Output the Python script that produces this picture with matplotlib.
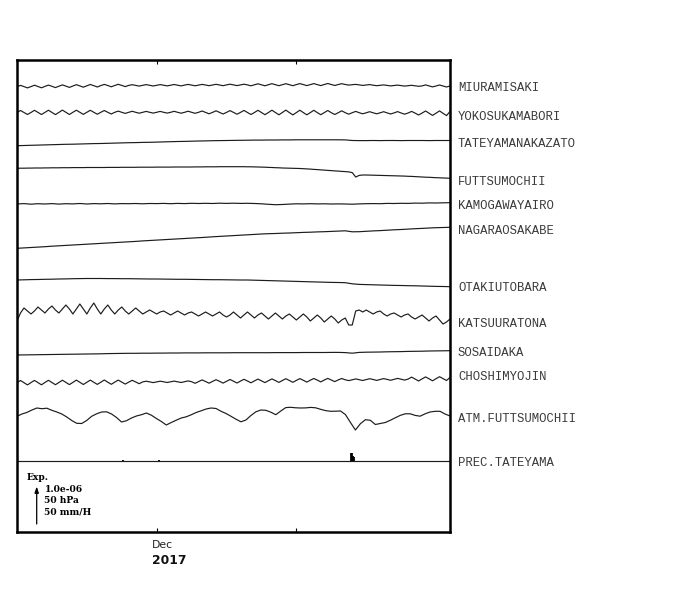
import numpy as np
import matplotlib
matplotlib.use("Agg")
import matplotlib.pyplot as plt
from matplotlib.transforms import blended_transform_factory

# ---------------- data ----------------
# time axis in days relative to 2017-12-01
T_START, T_END = -31.2, 65.3
TICK_DAYS = [0, 31]
TICK_MONTH = "Dec"
TICK_YEAR = "2017"

# scale bar: 1.0e-06 strain / 50 hPa / 50 mm/H  == SCALE_UNITS plot units
SCALE_UNITS = 37.5
SCALE_TEXT = ["1.0e-06", "50 hPa", "50 mm/H"]

miuramisaki = [
    -0.7, 0.6, -0.6, -1.9, -0.6, 0.8, -0.5, -1.8, -0.4, 0.9, -0.3, -1.6, -0.2, 1.1, -0.1, -1.4,
    0.0, 1.3, 0.1, -1.2, 0.2, 1.5, 0.3, -1.0, 0.4, 1.6, 0.5, -0.8, 0.5, 1.7, 0.6, -0.6,
    0.6, 1.3, 0.6, -0.1, 0.7, 1.4, 0.7, 0.0, 0.7, 1.4, 0.8, 0.1, 0.8, 1.5, 0.8, 0.1,
    0.9, 1.6, 0.9, 0.2, 0.9, 1.6, 1.0, 0.3, 1.0, 1.7, 1.0, 0.3, 1.1, 1.8, 1.1, 0.4, 1.1, 1.8, 1.1,
    0.2, 1.2, 2.2, 1.2, 0.2, 1.3, 2.3, 1.3, 0.3, 1.3, 2.3, 1.3, 0.3, 1.4, 2.4, 1.4, 0.4, 1.4, 2.4,
    1.4, 0.4, 1.5, 2.5, 1.5, 0.5, 1.5, 2.3, 1.5,
    0.9, 1.3, 1.6, 1.1, 0.6, 1.0, 1.4, 0.8, 0.3, 0.7, 1.1, 0.6, 0.1, 0.5, 0.9, 0.4, -0.1, 0.3, 0.7, 0.2, -0.3,
    0.1, 1.1, 0.1, -0.9, 0.0, 1.0, 0.0, -1.0, 0.0,
]

yokosukamabori = [
    -0.5, 1.5, -0.5, -2.5, -0.5, 1.7, -0.4, -2.5, -0.4, 1.8, -0.4, -2.6, -0.4, 1.9, -0.3, -2.5,
    -0.3, 1.8, -0.3, -2.4, -0.3, 1.7, -0.3, -2.2, -0.3, 1.5, -0.3, -2.0,
    -0.3, 0.9, -0.3, -1.4, -0.3, 0.7, -0.3, -1.2, -0.3, 0.6, -0.3, -1.1, -0.3, 0.6, -0.3, -1.1,
    -0.3, 0.7, -0.3, -1.2, -0.3, 0.8, -0.3, -1.3, -0.3, 1.0,
    -0.4, -1.8, -0.4, 1.2, -0.4, -2.0, -0.4, 1.4, -0.4, -2.2, -0.4, 1.6, -0.5, -2.5, -0.5, 1.7,
    -0.5, -2.7, -0.5, 1.8, -0.5, -2.8, -0.5, 1.9, -0.6, -2.9, -0.6, 1.8, -0.6, -2.8, -0.6, 1.7,
    -0.6, -2.7, -0.6, 1.5, -0.7, -2.5, -0.7, 1.2, -0.7, -2.2,
    -0.7, 0.6, -0.7, -1.8, -0.8, 0.3, -0.8, -1.8, -0.8, 0.3, -0.9, -2.0, -0.9, 0.4, -1.0, -2.2,
    -1.0, 0.6, -1.1,
    -3.0, -1.1, 1.0, -1.2, -3.4, -1.2, 1.1, -1.3, -3.6, 0.5,
]

tateyamanakazato = [
    -2.7, -2.5, -2.3, -2.1, -1.9, -1.7, -1.5, -1.3, -1.2, -1.0, -0.8, -0.6, -0.5, -0.3, -0.1, 0.1,
    0.3, 0.4, 0.6, 0.7, 0.9, 1.1, 1.3, 1.5, 1.6, 1.8, 2.0, 2.1, 2.3, 2.4, 2.5, 2.6,
    2.7, 2.8, 2.9, 2.9, 3.0, 3.0, 3.1, 3.1, 3.2, 3.2, 3.2, 3.2, 3.2, 3.2, 3.2, 3.1,
    2.5, 2.4, 2.4, 2.5, 2.4, 2.5, 2.5, 2.4, 2.5, 2.5, 2.5, 2.4, 2.5, 2.5, 2.5,
]

futtsumochii = [
    -0.3, -0.2, -0.2, -0.1, -0.1, 0.0, 0.0, 0.0, 0.1, 0.1, 0.2, 0.2, 0.2, 0.3, 0.3, 0.3,
    0.4, 0.4, 0.4, 0.4, 0.5, 0.5, 0.5, 0.5,
    0.5, 0.5, 0.6, 0.6, 0.6, 0.6, 0.7, 0.7, 0.7, 0.7, 0.7, 0.8, 0.8, 0.8, 0.8, 0.8,
    0.9, 0.9, 0.9, 0.9, 0.9, 1.0, 1.0, 1.0, 1.0, 1.0, 1.0, 1.1, 1.1,
    1.1, 1.2, 1.2, 1.2, 1.2, 1.3, 1.3, 1.3, 1.3, 1.3, 1.3, 1.3, 1.3, 1.2, 1.2, 1.1, 1.0, 0.9,
    0.8, 0.6, 0.5, 0.3, 0.2, 0.0, -0.1, -0.2, -0.3, -0.4, -0.5,
    -0.7, -0.9, -1.1, -1.4, -1.6, -1.9, -2.1, -2.4, -2.6, -2.9, -3.1, -3.4, -3.6, -3.9,
    -4.6, -9.0, -7.4, -7.0,
    -7.0, -7.1, -7.2, -7.3, -7.4, -7.5, -7.6, -7.7, -7.8, -7.9, -8.0, -8.1, -8.3, -8.4, -8.6,
    -8.8, -9.0, -9.2, -9.3, -9.5, -9.7, -9.8, -10.0, -10.1, -10.3,
]

kamogawayairo = [
    0.0, 0.4, -0.2, 0.3, 0.0, 0.4, -0.1, 0.3, 0.1, 0.5, 0.0, 0.4, 0.2, 0.5, 0.1, 0.4,
    0.3, 0.5, 0.2, 0.5, 0.4, 0.6, 0.3, 0.6, 0.4, 0.7, 0.5, 0.7, 0.5, 0.8, 0.6, 0.8, 0.6, 0.7,
    0.5, 0.2, -0.3, -0.7, -0.5, -0.1, 0.2, 0.1, 0.3, 0.1, 0.2, 0.0, 0.1, 0.0, -0.2,
    0.1, 0.3, 0.4, 0.3, 0.6, 0.5, 0.7, 0.6, 0.9, 0.8, 1.1, 1.0, 1.2, 1.3,
]

nagaraosakabe = [
    -8.3, -7.9, -7.5, -7.1, -6.7, -6.2, -5.8, -5.4, -5.0, -4.6, -4.2, -3.8, -3.4, -3.0, -2.6, -2.2,
    -1.8, -1.4, -0.9, -0.5, -0.1, 0.3, 0.7, 1.1, 1.5, 1.9, 2.3, 2.7, 3.2, 3.6, 4.0, 4.4,
    4.8, 5.2, 5.6, 6.0, 6.3, 6.5, 6.8, 7.0, 7.3, 7.6, 7.8, 8.1, 8.3, 8.6, 8.9, 9.2,
    8.2, 8.3, 8.7, 9.1, 9.4, 9.8, 10.2, 10.5, 10.9, 11.3, 11.6, 12.0, 12.3, 12.5, 12.7,
]

otakiutobara = [
    0.0, 0.2, 0.4, 0.5, 0.7, 0.8, 1.0, 1.1, 1.3, 1.4, 1.5, 1.5, 1.5, 1.4, 1.4, 1.3,
    1.3, 1.2, 1.1, 1.0, 1.0, 0.9, 0.8, 0.7, 0.7, 0.6, 0.5, 0.4, 0.3, 0.3, 0.2, 0.1,
    0.0, 0.0, -0.2, -0.4, -0.6, -0.8, -1.0, -1.2, -1.4, -1.6, -1.8, -2.0, -2.2, -2.4, -2.5, -2.7,
    -3.8, -4.4, -4.6, -4.8, -5.0, -5.2, -5.4, -5.5, -5.7, -5.8, -6.0, -6.2, -6.4, -6.5, -6.7,
]

katsuuratona = [
    -6, 2, 7, 4, 1, 4, 8, 5, 2, 6, 9, 5, 2, 6, 10, 6, 1, 6, 11, 6, 1, 7, 12, 6, 1, 6, 10, 5,
    1, 5, 8, 4, 1, 4, 7, 4, 1, 3, 5, 3, 1, 3, 4, 2, 0, 2, 4, 2, 0, 2, 3, 1, -1, 1, 3, 1,
    -1, 1, 3, 0, -2, 0, 3, 0, -3, 0, 3, 0, -3, 0, 2, -1, -4, -1, 2, -1, -4, -1, 1, -2,
    -5, -2, 1, -2, -6, -3, 0, -3, -7, -4, -1, -4, -8, -5, -3, -10, -10,
    4, 5, 3, 5, 3, 1, 3, 4, 1, -1, 1, 2, 0, -2, 0, 1, -2, -4, -2, 0, -3, -6, -3, -1,
    -5, -9, -7, -4,
]

sosaidaka = [
    -2.0, -1.9, -1.8, -1.7, -1.6, -1.5, -1.4, -1.3, -1.2, -1.1, -1.0, -0.9, -0.8, -0.6, -0.5, -0.4,
    -0.3, -0.3, -0.2, -0.2, -0.1, -0.1, 0.0, 0.0, 0.1, 0.1, 0.1, 0.2, 0.2, 0.2, 0.2, 0.3,
    0.3, 0.3, 0.3, 0.3, 0.3, 0.4, 0.4, 0.4, 0.4, 0.5, 0.5, 0.5, 0.5, 0.6, 0.6, 0.4,
    -0.2, 0.6, 0.8, 0.9, 1.0, 1.2, 1.3, 1.4, 1.6, 1.7, 1.8, 2.0, 2.1, 2.2, 2.3,
]

choshimyojin = [
    -2.7, -0.5, -2.7, -4.9, -2.6, -0.4, -2.6, -4.8, -2.5, -0.3, -2.5, -4.7, -2.5, -0.2, -2.4, -4.6,
    -2.4, -0.1, -2.3, -4.5, -2.3, -0.1, -2.3, -4.4, -2.2, 0.0, -2.2, -4.3, -2.1, -0.1, -2.1, -4.1,
    -2.1, -0.3, -2.0, -3.7,
    -1.9, -1.2, -1.9, -2.6, -1.9, -1.2, -1.8, -2.5, -1.8, -1.1, -1.8, -2.5, -1.7, -0.9,
    -1.7, -3.3, -1.6, 0.1, -1.5, -3.2, -1.4, 0.3, -1.3, -3.1, -1.3, 0.5, -1.2, -3.0, -1.1, 0.7,
    -1.0, -2.8, -0.9, 0.9, -0.8, -2.6, -0.7, 1.1, -0.6, -2.4, -0.5, 1.3, -0.5, -2.3, -0.4, 1.4,
    -0.3, -2.1, -0.2, 1.5, -0.1, -1.9, 0.0, 1.6, 0.0, -1.6, 0.1, 1.5,
    0.2, -0.6, 0.2, 1.1, 0.3, -0.5, 0.4, 1.3, 0.5, -0.4, 0.5, 1.4, 0.6, -0.3, 0.7, 1.6,
    0.8, -0.1, 0.9,
    2.9, 1.0, -1.0, 1.1, 3.1, 1.2, -0.8, 1.3, 3.3, 1.4, -0.5, 2.5,
]

atm_futtsumochii = [
    -0.3, 2.0, 3.6, 6.0, 8.0, 7.3, 7.8, 5.7, 4.0, 2.0, -1.0, -4.5, -7.3, -7.5, -4.5, -0.3,
    2.2, 4.0, 4.2, 2.0, -1.5, -6.0, -4.7, -2.0, 0.0, 1.3, 3.0, 0.8, -2.5, -5.5, -9.0, -6.5,
    -4.2, -2.0, -0.8, 1.2, 3.5, 5.2, 7.0, 8.0, 7.5, 4.7, 2.5, -0.3, -3.2, -5.8, -4.0, 0.5,
    4.2, 6.0, 5.7, 3.8, 1.3, 5.0, 8.4, 8.7, 8.2, 8.0, 8.1, 8.6, 8.2, 6.7, 5.4, 4.7,
    4.8, 5.0, 1.4, -6.5, -14.0, -7.7, -3.7, -4.3, -8.5, -7.5, -6.5, -4.3, -1.8, 0.6,
    2.2, 2.2, 0.6, -0.2, 2.2, 4.0, 4.7, 4.7, 2.0, 0.0,
]

# precipitation (mm/H) at TATEYAMA
prec_days = [-7.6, 0.45, 43.3, 43.5, 43.7, 43.9]
prec_mmh = [2.0, 1.3, 10.7, 10.7, 7.0, 6.0]

station_names = [
    "MIURAMISAKI", "YOKOSUKAMABORI", "TATEYAMANAKAZATO", "FUTTSUMOCHII",
    "KAMOGAWAYAIRO", "NAGARAOSAKABE", "OTAKIUTOBARA", "KATSUURATONA",
    "SOSAIDAKA", "CHOSHIMYOJIN", "ATM.FUTTSUMOCHII",
]
station_series = [
    miuramisaki, yokosukamabori, tateyamanakazato, futtsumochii,
    kamogawayairo, nagaraosakabe, otakiutobara, katsuuratona,
    sosaidaka, choshimyojin, atm_futtsumochii,
]
prec_name = "PREC.TATEYAMA"

# ---------------- layout ----------------
trace_offsets = [446, 420, 389, 364, 328, 292, 252, 217, 179, 152, 116]
prec_offset = 71
label_y = [443.7, 415.3, 388, 350.3, 326, 301.3, 243.7, 208, 179.3, 154.7, 112.7]
prec_label_y = 68.7
Y_MAX = 472

LINE_COLOR = "#1c1c1c"
TEXT_COLOR = "#3a3a3a"

fig = plt.figure(figsize=(7, 5.9), dpi=100)
ax = fig.add_axes([17 / 700, 1 - 532 / 590, 433 / 700, 472 / 590])

for vals, off in zip(station_series, trace_offsets):
    t = np.linspace(T_START, T_END, len(vals))
    ax.plot(t, off + np.asarray(vals, dtype=float), color=LINE_COLOR, lw=0.85,
            solid_joinstyle="round")

# precipitation: baseline + bars
prec_scale = SCALE_UNITS / 50.0
ax.axhline(prec_offset, color=LINE_COLOR, lw=0.85)
ax.vlines(prec_days, prec_offset, prec_offset + np.asarray(prec_mmh) * prec_scale,
          color="black", lw=1.3)

ax.set_xlim(T_START, T_END)
ax.set_ylim(0, Y_MAX)
ax.set_yticks([])
ax.set_xticks(TICK_DAYS)
ax.set_xticklabels([])
ax.tick_params(axis="x", which="both", direction="in", top=True, bottom=True,
               length=2.6, width=0.8, color="black")
for sp in ax.spines.values():
    sp.set_linewidth(1.8)
    sp.set_color("black")

# right-hand station labels
tr_r = blended_transform_factory(ax.transAxes, ax.transData)
for name, ly in zip(station_names, label_y):
    ax.text(1.0185, ly, name, transform=tr_r, ha="left", va="center",
            family="Liberation Mono", fontsize=8.8, color=TEXT_COLOR, clip_on=False)
ax.text(1.0185, prec_label_y, prec_name, transform=tr_r, ha="left", va="center",
        family="Liberation Mono", fontsize=8.8, color=TEXT_COLOR, clip_on=False)

# date labels below the axis
tr_b = blended_transform_factory(ax.transData, ax.transAxes)
ax.text(TICK_DAYS[0] - 1.1, -0.0275, TICK_MONTH, transform=tr_b, ha="left", va="center",
        family="DejaVu Sans", fontsize=7.8, color="#222222", clip_on=False)
ax.text(TICK_DAYS[0] - 1.1, -0.0614, TICK_YEAR, transform=tr_b, ha="left", va="center",
        family="DejaVu Sans", fontsize=8.8, fontweight="bold", color="#111111",
        clip_on=False)

# scale legend (Exp.)
arrow_x = T_START + (36.7 - 17) / 433 * (T_END - T_START)
arrow_y0 = 8
ax.annotate("", xy=(arrow_x, arrow_y0 + SCALE_UNITS), xytext=(arrow_x, arrow_y0),
            arrowprops=dict(arrowstyle="-|>,head_length=0.35,head_width=0.12",
                            color="black", lw=0.9, shrinkA=0, shrinkB=0))
ax.text((27 - 17) / 433, 55, "Exp.", transform=tr_r, ha="left", va="center",
        family="DejaVu Serif", fontweight="bold", fontsize=6.6, color="black")
for i, s in enumerate(SCALE_TEXT):
    ax.text((44.5 - 17) / 433, 42 - 10.8 * i, s, transform=tr_r, ha="left", va="center",
            family="DejaVu Serif", fontweight="bold", fontsize=6.6, color="black")

fig.savefig("out.png", dpi=100)
